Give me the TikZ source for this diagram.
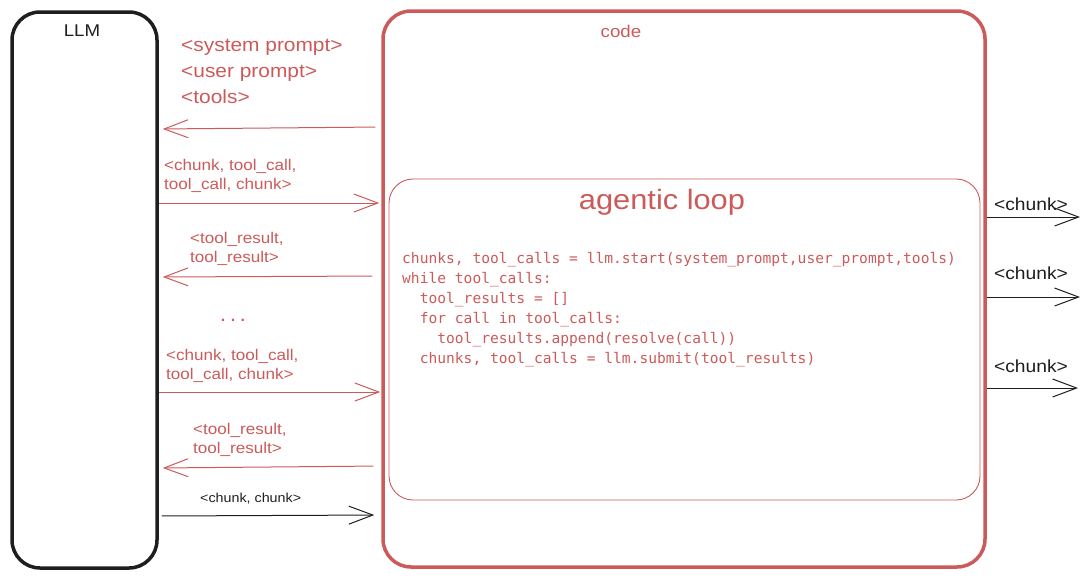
\documentclass[tikz,border=0pt]{standalone}
\usepackage{fontspec}
\setmainfont[FakeStretch=1.1]{Liberation Sans}
\setmonofont{DejaVu Sans Mono}
\usetikzlibrary{arrows.meta,positioning}
\definecolor{cred}{RGB}{204,90,90}
\definecolor{cink}{RGB}{30,30,30}
\newcommand{\ind}{\phantom{xx}}
\newcommand{\us}{\_}

\tikzset{
  box/.style={draw, rounded corners=28pt, line width=3.5pt, inner sep=0pt},
  loopbox/.style={draw=cred, rounded corners=24pt, line width=0.9pt, inner sep=0pt},
  msg/.style={-{Straight Barb[length=24pt,width=18pt]}, line width=1pt},
  lbl/.style={anchor=west, align=left, font=\fontsize{15.5}{19}\selectfont, inner sep=0pt},
}

\begin{document}
\begin{tikzpicture}[x=1pt, y=-1pt]
  \useasboundingbox (0,0) rectangle (1090,579);
  % the two sides
  \node[box, draw=cink, minimum width=145pt, minimum height=556pt] (llm) at (84.5,290) {};
  \node[box, draw=cred, minimum width=602pt, minimum height=556pt] (code) at (684,289) {};
  \node[loopbox, minimum width=591pt, minimum height=321pt] (loop) at (684.5,339.5) {};
  \node[font=\fontsize{17}{17}\selectfont, cink] (llmname) at (82,31) {LLM};
  \node[font=\fontsize{17}{17}\selectfont, cred] (codename) at (621,31) {code};
  \node[font=\fontsize{28}{28}\selectfont, cred] (loopname) at (662,202) {agentic loop};

  % prompt inputs
  \node[anchor=west, align=left, cred, font=\fontsize{19}{26}\selectfont, inner sep=0pt] (inputs) at (181,71)
    {<system prompt>\\<user prompt>\\<tools>};

  % the loop
  \node[anchor=north west, align=left, cred, font=\ttfamily\fontsize{14.6}{20}\selectfont, inner sep=0pt] (prog) at (402,252)
    {chunks, tool\us calls = llm.start(system\us prompt,user\us prompt,tools)\\
     while tool\us calls:\\
     \ind tool\us results = []\\
     \ind for call in tool\us calls:\\
     \ind\ind tool\us results.append(resolve(call))\\
     \ind chunks, tool\us calls = llm.submit(tool\us results)};

  % messages between LLM and code
  \draw[msg, cred, shorten <=6pt, shorten >=4pt] (code.west |- 0,127) -- (llm.east |- 0,129);
  \node[lbl, cred] (m1) at (164,176) {<chunk, tool\us call,\\tool\us call, chunk>};
  \draw[msg, cred, shorten >=2pt] (llm.east |- 0,203) -- (code.west |- 0,203);
  \node[lbl, cred] (m2) at (190,249) {<tool\us result,\\tool\us result>};
  \draw[msg, cred, shorten <=9pt, shorten >=4pt] (code.west |- 0,276) -- (llm.east |- 0,277);
  \node[cred, font=\fontsize{21}{21}\selectfont] (dots) at (233,320) {.\,.\,.};
  \node[lbl, cred] (m3) at (166,366) {<chunk, tool\us call,\\tool\us call, chunk>};
  \draw[msg, cred, shorten >=1pt] (llm.east |- 0,392) -- (code.west |- 0,392);
  \node[lbl, cred] (m4) at (193,440) {<tool\us result,\\tool\us result>};
  \draw[msg, cred, shorten <=8pt, shorten >=4pt] (code.west |- 0,466) -- (llm.east |- 0,468);
  \node[lbl, cink, font=\fontsize{13}{13}\selectfont] (m5) at (200,499) {<chunk, chunk>};
  \draw[msg, cink, shorten <=3pt, shorten >=7pt] (llm.east |- 0,516) -- (code.west |- 0,515);

  % streamed chunks out
  \coordinate (out1) at (1080,217);
  \coordinate (out2) at (1080,297);
  \coordinate (out3) at (1078,388);
  \node[cink, font=\fontsize{17.5}{17.5}\selectfont] (c1) at (1031,204) {<chunk>};
  \node[cink, font=\fontsize{17.5}{17.5}\selectfont] (c2) at (1031,273) {<chunk>};
  \node[cink, font=\fontsize{17.5}{17.5}\selectfont] (c3) at (1031,366) {<chunk>};
  \draw[msg, cink] (code.east |- out1) -- (out1);
  \draw[msg, cink] (code.east |- out2) -- (out2);
  \draw[msg, cink] (code.east |- out3) -- (out3);
\end{tikzpicture}
\end{document}
